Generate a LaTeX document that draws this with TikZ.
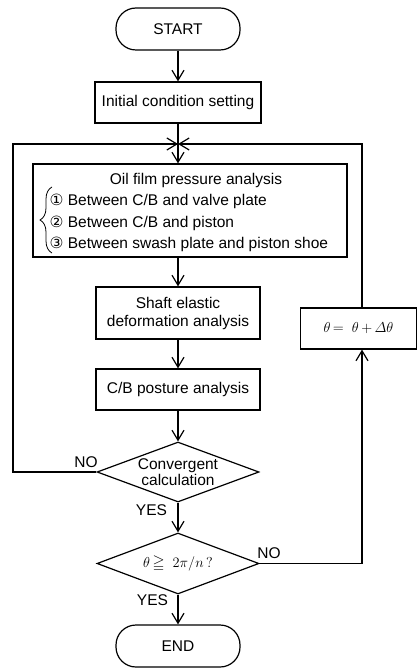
\documentclass[tikz,border=0pt]{standalone}
\usepackage{amsmath,amssymb}
\usepackage{fontspec}
\setmainfont{Liberation Sans}
\newfontfamily\dejavu{DejaVu Sans}
\usetikzlibrary{arrows.meta,shapes.geometric,decorations.pathreplacing}
\begin{document}
\begin{tikzpicture}[x=1pt,y=-1pt,
  every node/.style={font=\fontsize{15.5}{18}\selectfont},
  line width=1.2pt,
  arr/.style={-{Straight Barb[length=10pt,width=12pt]}},
  box/.style={draw, rectangle, inner sep=0pt, align=center},
  term/.style={draw, rectangle, rounded corners=20pt, inner sep=0pt, minimum width=124pt, minimum height=42pt},
  dia/.style={draw, diamond, inner sep=0pt, minimum width=162pt, minimum height=60pt},
  lbl/.style={inner sep=0pt}
]
\useasboundingbox (0,0) rectangle (417,668);

\node[term] (start) at (178,29) {START};
\node[box, minimum width=166pt, minimum height=41pt] (init) at (178,102.5) {Initial condition setting};
\coordinate (j) at (178,144);

\node[box, minimum width=314pt, minimum height=93pt] (oil) at (190,210.5) {};
\node[lbl, anchor=base] (oilt) at (196,184.5) {Oil film pressure analysis};
\node[lbl, anchor=base west] (i1) at (49,205.5) {{\dejavu ①} Between C/B and valve plate};
\node[lbl, anchor=base west] (i2) at (49,227) {{\dejavu ②} Between C/B and piston};
\node[lbl, anchor=base west] (i3) at (49,248) {{\dejavu ③} Between swash plate and piston shoe};
\draw[decorate, decoration={brace, amplitude=12pt}, line width=0.8pt] (52,253) -- (52,187);

\node[box, minimum width=164pt, minimum height=52pt] (shaft) at (178,313) {Shaft elastic\\deformation analysis};
\node[box, minimum width=164pt, minimum height=41pt] (cb) at (178,389.5) {C/B posture analysis};
\node[dia, label={[align=center, font=\fontsize{15.5}{16}\selectfont]center:Convergent\\calculation}] (c1) at (178,472) {};
\node[dia, minimum height=61pt, label={center:$\theta\mkern-2mu\geqq\;2\pi/n\,?$}] (c2) at (178,563.5) {};
\node[term] (end) at (178,646) {END};
\node[box, minimum width=116pt, minimum height=41pt] (th) at (358.5,328.5) {$\theta\mkern-2mu=\;\theta\mkern-1mu+\mkern-1mu\varDelta\theta$};

\coordinate (lr) at (13,472);
\coordinate (rr) at (362,144);

\draw[arr] (start) -- (init);
\draw[arr] (init.south) -- (init.south |- oil.north);
\draw[arr] (oil.south -| shaft) -- (shaft);
\draw[arr] (shaft) -- (cb);
\draw[arr] (cb) -- (c1);
\draw[arr] (c1) -- (c2);
\draw[arr] (c2) -- (end);
\draw[arr] (c1.west) -- (lr) |- (j);
\draw[arr] (th.north -| rr) -- (rr) -- (j);
\draw[arr] (c2.east) -| (th.south -| rr);

\node[lbl] (no1) at (86,462) {NO};
\node[lbl] (no2) at (269,553) {NO};
\node[lbl] (yes1) at (151.5,510) {YES};
\node[lbl] (yes2) at (152.5,600.5) {YES};
\end{tikzpicture}
\end{document}
